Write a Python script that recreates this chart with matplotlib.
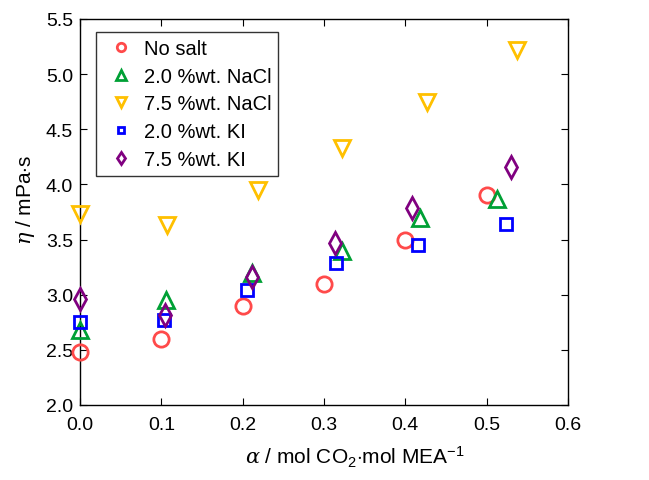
import matplotlib
matplotlib.use('Agg')
import matplotlib.pyplot as plt
from matplotlib.ticker import FormatStrFormatter

plt.rcParams['font.family'] = ['Liberation Sans', 'DejaVu Sans']
plt.rcParams['mathtext.fontset'] = 'custom'
plt.rcParams['mathtext.rm'] = 'Liberation Sans'
plt.rcParams['mathtext.it'] = 'DejaVu Serif:italic'

# loading (x) and viscosity (y) for each series
x_nosalt = [0.0, 0.1, 0.2, 0.3, 0.4, 0.5]
y_nosalt = [2.48, 2.60, 2.90, 3.10, 3.50, 3.90]

x_nacl2 = [0.0, 0.106, 0.212, 0.322, 0.418, 0.513]
y_nacl2 = [2.68, 2.95, 3.20, 3.40, 3.70, 3.87]

x_nacl75 = [0.0, 0.107, 0.219, 0.322, 0.427, 0.537]
y_nacl75 = [3.73, 3.63, 3.95, 4.33, 4.75, 5.22]

x_ki2 = [0.0, 0.103, 0.205, 0.315, 0.416, 0.524]
y_ki2 = [2.75, 2.77, 3.04, 3.29, 3.45, 3.64]

x_ki75 = [0.0, 0.105, 0.211, 0.314, 0.408, 0.530]
y_ki75 = [2.96, 2.82, 3.16, 3.47, 3.79, 4.16]

series = [
    ('No salt', x_nosalt, y_nosalt, 'o', '#ff4a4a', 11),
    ('2.0 %wt. NaCl', x_nacl2, y_nacl2, '^', '#00a035', 12),
    ('7.5 %wt. NaCl', x_nacl75, y_nacl75, 'v', '#ffc000', 12),
    ('2.0 %wt. KI', x_ki2, y_ki2, 's', '#0000ff', 9),
    ('7.5 %wt. KI', x_ki75, y_ki75, 'd', '#800080', 11),
]

fs = 14

fig = plt.figure(figsize=(6.49, 4.81), dpi=100)
ax = fig.add_axes([80/649, 1 - 406/481, 488/649, 386/481])

for label, xs, ys, m, c, ms in series:
    ax.plot(xs, ys, linestyle='none', marker=m, markersize=ms,
            markerfacecolor='none', markeredgecolor=c, markeredgewidth=2,
            label=label, clip_on=False, zorder=3)

ax.set_xlim(0, 0.6)
ax.set_ylim(2.0, 5.5)
ax.set_xticks([0.0, 0.1, 0.2, 0.3, 0.4, 0.5, 0.6])
ax.set_yticks([2.0, 2.5, 3.0, 3.5, 4.0, 4.5, 5.0, 5.5])
ax.xaxis.set_major_formatter(FormatStrFormatter('%.1f'))
ax.yaxis.set_major_formatter(FormatStrFormatter('%.1f'))
ax.tick_params(direction='in', top=True, right=True, labelsize=fs, length=5)
ax.tick_params(axis='x', pad=8)
ax.tick_params(axis='y', pad=5)
for sp in ax.spines.values():
    sp.set_linewidth(1.0)

ax.set_xlabel(r'$\alpha$ / mol CO$_2$$\cdot$mol MEA$^{-1}$', fontsize=15)
ax.set_ylabel(r'$\eta$ / mPa$\cdot$s', fontsize=15)
ax.xaxis.set_label_coords(0.564, -0.1)
ax.yaxis.set_label_coords(-0.088, 0.534)

leg = ax.legend(loc='upper left', bbox_to_anchor=(0.033, 0.966), borderaxespad=0,
                fontsize=14.5, markerscale=0.55, frameon=True, fancybox=False,
                edgecolor='#333333', framealpha=1, labelspacing=0.44,
                handlelength=1.8, handletextpad=0.25, borderpad=0.33)
leg.get_frame().set_linewidth(1.0)

fig.savefig('out.png', dpi=100)
